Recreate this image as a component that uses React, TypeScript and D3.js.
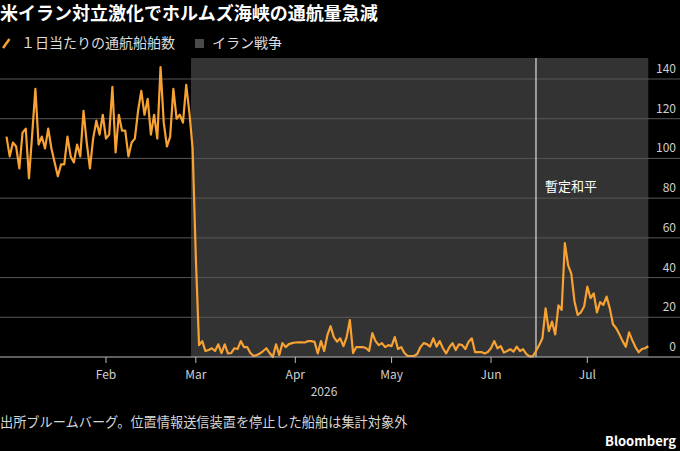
import React from "react";
import * as d3 from "d3";

const title = "米イラン対立激化でホルムズ海峡の通航量急減";
const seriesLabel = "１日当たりの通航船舶数";
const warLabel = "イラン戦争";
const truceLabel = "暫定和平";
const sourceNote = "出所ブルームバーグ。位置情報送信装置を停止した船舶は集計対象外";
const brand = "Bloomberg";

// daily ship transits, one value per day starting Jan 1 2026
const janValues = [111, 101, 108, 106, 95, 113, 115, 90, 112, 135, 107, 111, 105, 115, 105, 98, 91, 97, 97, 111, 101, 98, 107, 101, 124, 108, 95, 110, 119, 112, 122];
const febValues = [110, 112, 136, 103, 122, 114, 114, 101, 108, 110, 124, 134, 122, 130, 112, 122, 110, 146, 118, 106, 111, 135, 120, 122, 118, 137, 123, 105];
const marValues = [50, 6, 8, 3, 3.5, 4.4, 3, 6.4, 2, 6.4, 1.8, 2, 4.4, 4, 8, 5, 5, 2, 0.5, 1, 1.8, 3, 4.4, 2, 0, 6.4, 1, 7, 5, 6.5, 7];
const aprValues = [7.3, 7.4, 7.4, 7.3, 8, 8, 7.6, 1.8, 8, 3, 11, 15.5, 10, 7.7, 9.4, 5.5, 10, 18.6, 2, 5, 5, 5, 4.5, 3, 12, 8, 6, 7, 5, 6];
const mayValues = [5.5, 10, 4, 5, 2, 0.5, 0.5, 0.5, 1.5, 5, 7, 6.5, 5.2, 9.4, 5.2, 8, 4.4, 1.8, 4.9, 7, 3.5, 6.4, 6, 4, 7.7, 9.4, 2.5, 2.5, 2.5, 1.8, 2.5];
const junValues = [4.5, 8, 4.4, 5.5, 2.2, 3, 3.9, 2.7, 5.2, 3, 3.9, 1.5, 0.3, 0.3, 3, 6, 9.4, 24.5, 13, 17.8, 11.4, 26, 23.7, 57.3, 46.3, 42, 28, 21.2, 22.5, 25.4];
const julValues = [35.4, 29.6, 32, 22.5, 27.6, 26.2, 30.4, 24.5, 16.5, 14.5, 11.4, 8, 5.2, 12.4, 8.5, 5, 2.4, 4, 4.4, 5.4];

const startDate = new Date(2026, 0, 1);
const warStart = new Date(2026, 1, 27, 12);
const truceDate = new Date(2026, 5, 15);

const yTicks = [0, 20, 40, 60, 80, 100, 120, 140];
const monthTicks = [1, 2, 3, 4, 5, 6].map(m => new Date(2026, m, 1));
const monthLabels = ["Feb", "Mar", "Apr", "May", "Jun", "Jul"];
const yearLabel = "2026";

const counts = [...janValues, ...febValues, ...marValues, ...aprValues, ...mayValues, ...junValues, ...julValues];
const data = counts.map((v, i) => ({ date: d3.timeDay.offset(startDate, i), value: v }));

const font = "'Noto Sans CJK JP', 'Noto Sans', sans-serif";

function App() {
  const w = 680,
    h = 451,
    plotTop = 58,
    baseY = 357;

  const lastDate = data[data.length - 1].date;

  const xScale = d3.scaleTime()
    .domain([startDate, lastDate])
    .range([6.5, 648.3]);

  const yScale = d3.scaleLinear()
    .domain([0, 140])
    .range([baseY, 79]);

  const line = d3.line<{ date: Date; value: number }>()
    .x(d => xScale(d.date))
    .y(d => yScale(d.value));

  const grid = yTicks.filter(t => t > 0).map((t, i) => (
    <line key={i} x1={0} x2={w} y1={yScale(t)} y2={yScale(t)} stroke="#575757" strokeWidth={1} />
  ));

  const yLabels = yTicks.map((t, i) => (
    <text key={i} x={676} y={yScale(t) - 6} textAnchor="end" fontSize={12} fill="#cfcfcf">{t}</text>
  ));

  const xTicks = monthTicks.map((d, i) => (
    <g key={i}>
      <line x1={xScale(d)} x2={xScale(d)} y1={baseY} y2={baseY + 6} stroke="#bbbbbb" />
      <text x={xScale(d)} y={baseY + 22} textAnchor="middle" fontSize={12} fill="#cfcfcf">{monthLabels[i]}</text>
    </g>
  ));

  return (
    <svg width={w} height={h} style={{ position: "absolute", left: 0, top: 0, background: "#000", fontFamily: font }}>
      <rect x={0} y={0} width={w} height={h} fill="#000" />
      <text x={0} y={20} fontSize={18} fontWeight="bold" fill="#ffffff">{title}</text>

      <line x1={3} y1={48} x2={9.5} y2={39} stroke="#f7a232" strokeWidth={2.5} />
      <text x={21} y={48} fontSize={14} fill="#dddddd">{seriesLabel}</text>
      <rect x={195} y={39} width={9} height={9} fill="#4a4a4a" />
      <text x={212} y={48} fontSize={14} fill="#dddddd">{warLabel}</text>

      <rect
        x={xScale(warStart)}
        y={plotTop}
        width={xScale(lastDate) - xScale(warStart)}
        height={baseY - plotTop}
        fill="#333333"
      />
      {grid}
      <line x1={xScale(truceDate)} x2={xScale(truceDate)} y1={plotTop} y2={baseY} stroke="#ffffff" strokeWidth={1} />
      <text x={545} y={191} fontSize={13} fill="#ffffff">{truceLabel}</text>

      <path d={line(data) || ""} fill="none" stroke="#f7a232" strokeWidth={2.2} strokeLinejoin="round" />

      <line x1={0} x2={w} y1={baseY} y2={baseY} stroke="#bbbbbb" strokeWidth={1} />
      {xTicks}
      <text x={324} y={baseY + 39} textAnchor="middle" fontSize={12} fill="#cfcfcf">{yearLabel}</text>
      {yLabels}

      <text x={0} y={427} fontSize={13.2} fill="#d6d6d6">{sourceNote}</text>
      <text x={676} y={446} textAnchor="end" fontSize={13} fontWeight="bold" fill="#ffffff">{brand}</text>
    </svg>
  );
}

export default App;
